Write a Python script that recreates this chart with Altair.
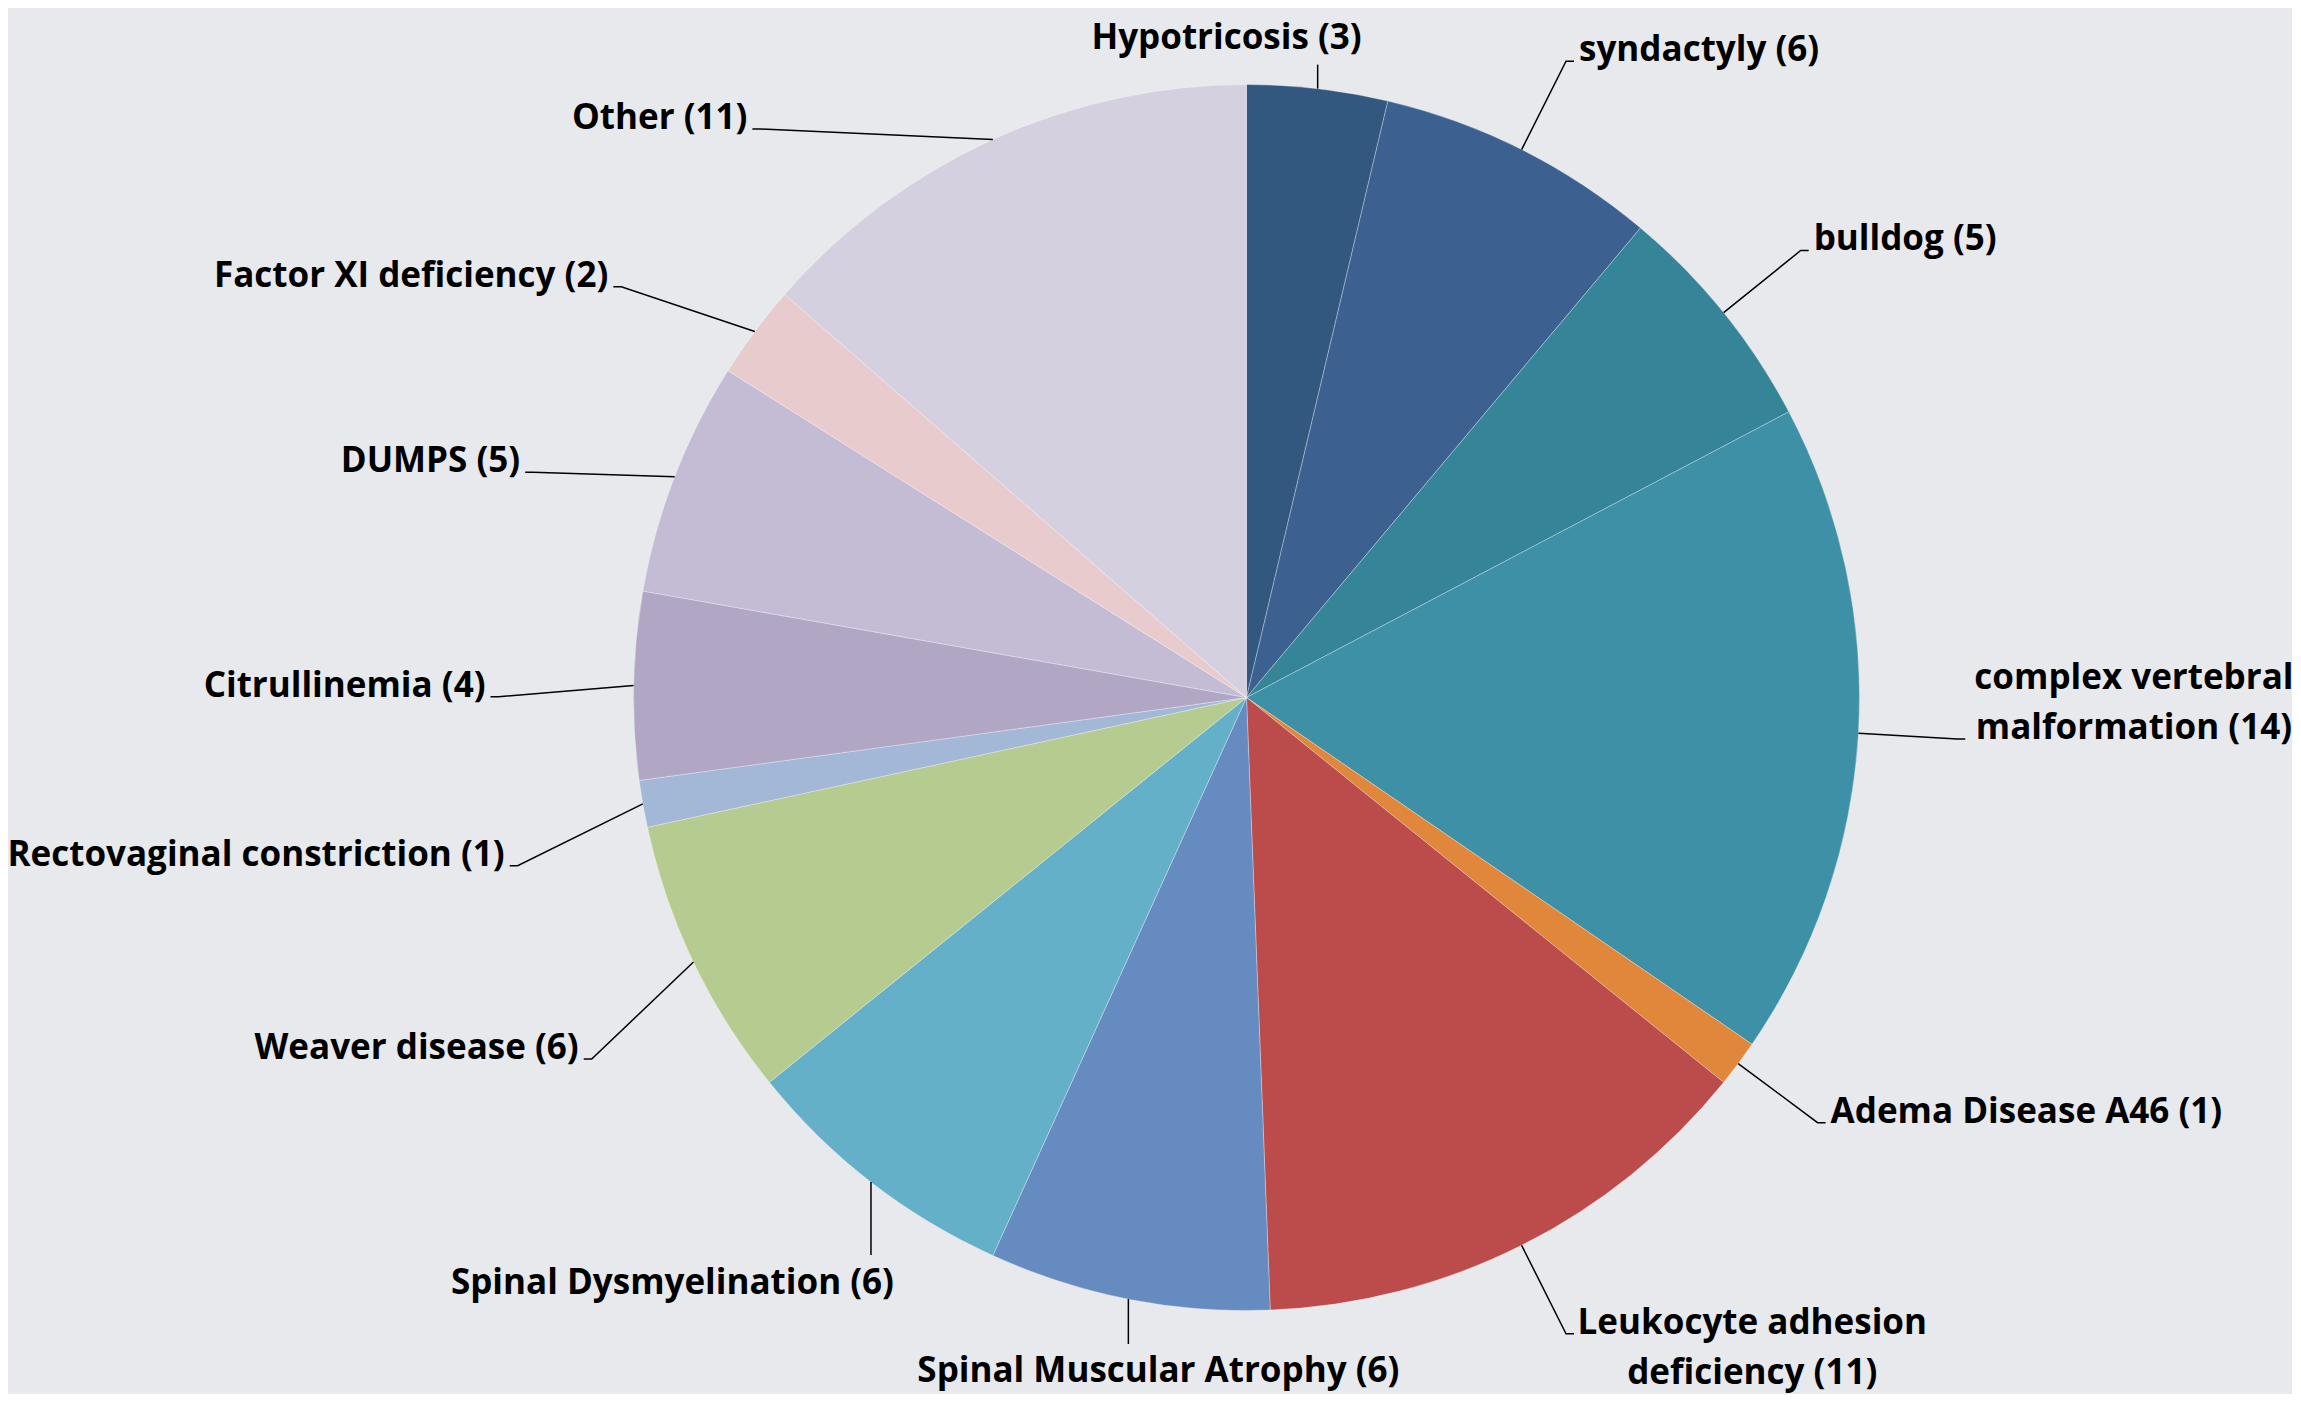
import math
import altair as alt
import pandas as pd

# ---- data ----
names = [
    "Hypotricosis", "syndactyly", "bulldog", "complex vertebral malformation",
    "Adema Disease A46", "Leukocyte adhesion deficiency", "Spinal Muscular Atrophy",
    "Spinal Dysmyelination", "Weaver disease", "Rectovaginal constriction",
    "Citrullinemia", "DUMPS", "Factor XI deficiency", "Other",
]
counts = [3, 6, 5, 14, 1, 11, 6, 6, 6, 1, 4, 5, 2, 11]
colors = [
    "#33587f", "#3c6190", "#368497", "#3d90a6", "#e0873c", "#bb4c4b", "#668bc0",
    "#65b0c9", "#b6cb8f", "#a3b7d6", "#b1a7c4", "#c4bcd5", "#e8cbcd", "#d5d0df",
]

# ---- layout parameters ----
W, H = 2284, 1386
CX, CY, R = 1238.5, 689.5, 613
R_RIGHT = 712          # radius of label elbows on the right side
R_LEFT = 748           # radius of label elbows on the left side
Y_TOP, Y_BOT = 121, 1090  # vertical span over which left labels are spread
FONT = 35
LH = 50
TICK, GAP = 8, 13
CHAR_W = 0.55 * FONT   # rough average glyph width, used to centre wrapped labels

total = sum(counts)
mids, cum = [], 0
for c in counts:
    mids.append((cum + c / 2) / total * 360.0)
    cum += c


def polar(a_deg, r):
    a = math.radians(a_deg)
    return CX + r * math.sin(a), CY - r * math.cos(a)


def label_text(n, c):
    t = f"{n} ({c})"
    if len(t) > 30:
        w = n.split(" ")
        return " ".join(w[:-1]) + "\n" + f"{w[-1]} ({c})"
    return t


def side(a):
    if a < 15 or a > 345:
        return "top"
    if 165 < a < 230:
        return "bottom"
    if a <= 165:
        return "right"
    return "left"


sides = [side(a) for a in mids]
left_idx = sorted([i for i, s in enumerate(sides) if s == "left"], key=lambda i: -mids[i])
bottom_idx = [i for i, s in enumerate(sides) if s == "bottom"]
center_bottom = min(bottom_idx, key=lambda i: abs(mids[i] - 180)) if bottom_idx else None

slices = pd.DataFrame({
    "name": names, "count": counts, "idx": list(range(len(names))),
    "x": [CX] * len(names), "y": [CY] * len(names),
})

line_rows, text_rows = [], []
for i, (n, c, a) in enumerate(zip(names, counts, mids)):
    ex, ey = polar(a, R)
    txt = label_text(n, c)
    lines_ = txt.split("\n")
    nl = len(lines_)
    s = sides[i]
    pts = [(ex, ey)]
    if s == "right":
        bx, by = polar(a, R_RIGHT)
        pts += [(bx, by), (bx + TICK, by)]
        ty = by - (nl - 1) * LH if a < 120 else by
        if nl > 1:
            wmax = max(len(l) for l in lines_) * CHAR_W
            text_rows.append((txt, bx + GAP + wmax / 2, ty, "center"))
        else:
            text_rows.append((txt, bx + GAP, ty, "left"))
    elif s == "left":
        k = left_idx.index(i)
        even = Y_TOP + k * (Y_BOT - Y_TOP) / (len(left_idx) - 1)
        radial = min(max(polar(a, R_LEFT)[1], Y_TOP), Y_BOT)
        by = 0.5 * even + 0.5 * radial
        bx = CX - math.sqrt(max(R_LEFT ** 2 - (by - CY) ** 2, 0))
        pts += [(bx, by), (bx - TICK, by)]
        text_rows.append((txt, bx - GAP, by - (nl - 1) * LH, "right"))
    elif s == "top":
        ly = ey - 24
        pts += [(ex, ly)]
        text_rows.append((txt, ex + 44, ly - 16, "right"))
    else:
        ly = min(ey + 73, 1336)
        pts += [(ex, ly)]
        if i == center_bottom:
            text_rows.append((txt, ex + 30, ly + 38, "center"))
        else:
            text_rows.append((txt, ex + 23, ly + 39, "right"))
    for j, (px, py) in enumerate(pts):
        line_rows.append({"name": n, "seq": j, "x": px, "y": py})

lines = pd.DataFrame(line_rows)
texts = pd.DataFrame(text_rows, columns=["label", "x", "y", "align"])

xs = alt.Scale(domain=[0, W], nice=False, zero=False)
ys = alt.Scale(domain=[0, H], nice=False, zero=False, reverse=True)

pie = alt.Chart(slices).mark_arc(outerRadius=R, stroke="#ffffff", strokeWidth=0.6, strokeOpacity=0.5).encode(
    x=alt.X("x:Q", scale=xs, axis=None),
    y=alt.Y("y:Q", scale=ys, axis=None),
    theta=alt.Theta("count:Q", stack=True),
    order=alt.Order("idx:Q"),
    color=alt.Color("name:N", scale=alt.Scale(domain=names, range=colors), legend=None),
)

leaders = alt.Chart(lines).mark_line(color="#000000", strokeWidth=1.5).encode(
    x=alt.X("x:Q", scale=xs, axis=None),
    y=alt.Y("y:Q", scale=ys, axis=None),
    detail="name:N",
    order="seq:Q",
)

text_layers = []
for al in ["left", "right", "center"]:
    text_layers.append(
        alt.Chart(texts).transform_filter(alt.datum.align == al).mark_text(
            align=al, baseline="alphabetic", font="Open Sans", fontWeight="bold",
            fontSize=FONT, lineBreak="\n", lineHeight=LH, color="#000000",
        ).encode(
            x=alt.X("x:Q", scale=xs, axis=None),
            y=alt.Y("y:Q", scale=ys, axis=None),
            text="label:N",
        )
    )

chart = alt.layer(pie, leaders, *text_layers).properties(
    width=W, height=H, padding=0, autosize="none", background="#e7e9ec",
).configure_view(stroke=None)

chart.save("out.html", embed_options={"renderer": "svg", "actions": False})
